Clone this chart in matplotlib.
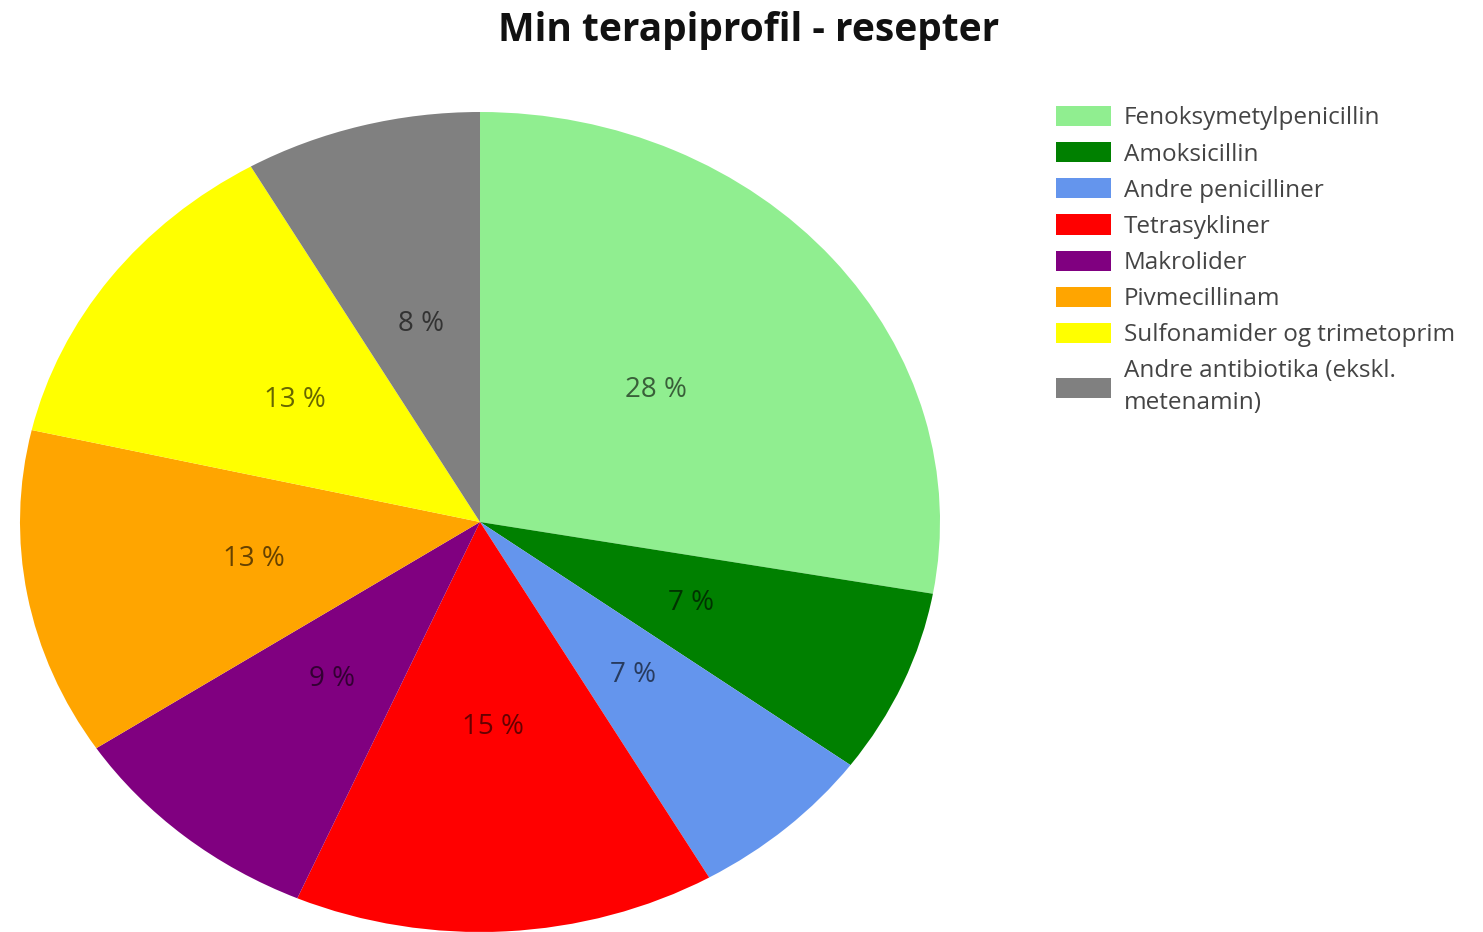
import matplotlib.pyplot as plt
from matplotlib.patches import Patch

## Data
labels = [
    "Fenoksymetylpenicillin",
    "Amoksicillin",
    "Andre penicilliner",
    "Tetrasykliner",
    "Makrolider",
    "Pivmecillinam",
    "Sulfonamider og trimetoprim",
    "Andre antibiotika (ekskl.\nmetenamin)",
]
shares = [27.8, 7.3, 6.6, 14.8, 9.2, 12.9, 13.1, 8.3]
colors = [
    "#90ee90",
    "#008000",
    "#6495ed",
    "#ff0000",
    "#800080",
    "#ffa500",
    "#ffff00",
    "#808080",
]

plt.rcParams["font.family"] = ["Open Sans", "DejaVu Sans"]

fig = plt.figure(figsize=(14.83, 9.32), dpi=100)
# pie is slightly wider than tall in the reference
ax = fig.add_axes([20 / 1483, 0.0, 920 / 1483, 820 / 932])

wedges, _, autotexts = ax.pie(
    shares,
    colors=colors,
    startangle=90,
    counterclock=False,
    autopct="%.0f %%",
    pctdistance=0.5,
    wedgeprops={"linewidth": 0},
    textprops={"fontsize": 20, "color": "black", "alpha": 0.6},
)
ax.set_aspect("auto")
ax.set_xlim(-1, 1)
ax.set_ylim(-1, 1)
for w in wedges:
    w.set_clip_on(False)

fig.text(
    749 / 1483,
    1 - 31 / 932,
    "Min terapiprofil - resepter",
    ha="center",
    va="center",
    fontsize=28,
    fontweight="bold",
    color="#111111",
)

handles = [Patch(facecolor=c, edgecolor="none") for c in colors]
leg = fig.legend(
    handles,
    labels,
    loc="upper left",
    bbox_to_anchor=(1056 / 1483, 1 - 106 / 932),
    frameon=False,
    fontsize=17.5,
    handlelength=2.25,
    handleheight=0.9,
    handletextpad=0.55,
    labelspacing=0.48,
    borderpad=0,
    borderaxespad=0,
    labelcolor="#444444",
)
leg.get_texts()[-1].set_linespacing(1.45)

fig.savefig("out.png", dpi=100)
